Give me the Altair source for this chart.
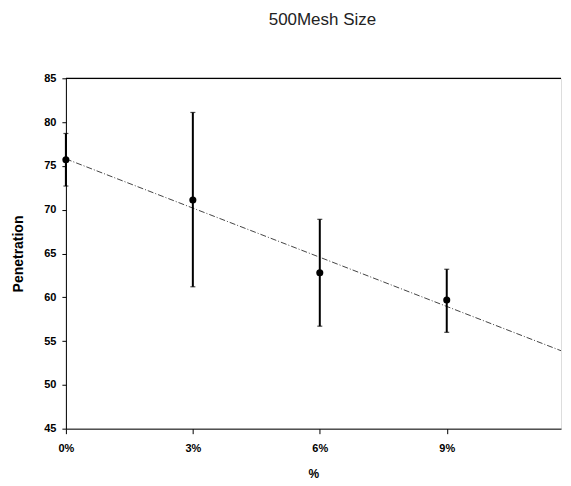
import altair as alt
import pandas as pd

pct = [0, 3, 6, 9]
penetration = [75.7, 71.1, 62.8, 59.7]
err_low = [72.7, 61.2, 56.7, 56.0]
err_high = [78.7, 81.1, 68.9, 63.2]
trend_x = [0, 11.7]
trend_y = [75.8, 53.9]
x_ticks = [0, 3, 6, 9]
y_ticks = [45, 50, 55, 60, 65, 70, 75, 80, 85]

df = pd.DataFrame({"pct": pct, "pen": penetration, "lo": err_low, "hi": err_high})
caps = pd.DataFrame({"pct": pct * 2, "v": err_low + err_high})
tr = pd.DataFrame({"pct": trend_x, "pen": trend_y})
top = pd.DataFrame({"pct": [0], "pct2": [11.7], "y": [85]})

FONT = "Liberation Sans"

xs = alt.Scale(domain=[0, 11.7], nice=False, zero=False)
ys = alt.Scale(domain=[45, 85], nice=False, zero=False)

xax = alt.Axis(values=x_ticks, labelExpr="datum.value + '%'", title="%", grid=False,
               domainColor="black", tickColor="black", tickSize=5, labelFont=FONT,
               labelFontSize=11, labelFontWeight="bold", titleFont=FONT, titleFontSize=12,
               titleFontWeight="bold", labelPadding=9, titlePadding=15, labelColor="black",
               titleColor="black", labelFlush=False)
yax = alt.Axis(values=y_ticks, title="Penetration", grid=False,
               domainColor="black", tickColor="black", tickSize=4, labelFont=FONT,
               labelFontSize=11, labelFontWeight="bold", titleFont=FONT, titleFontSize=14,
               titleFontWeight="bold", labelPadding=6, titlePadding=18, labelColor="black",
               titleColor="black", labelFlush=False)

base = alt.Chart(df)

trend = alt.Chart(tr).mark_line(color="#444444", strokeWidth=1, strokeDash=[6, 2, 1, 2]).encode(
    x=alt.X("pct:Q", scale=xs, axis=xax), y=alt.Y("pen:Q", scale=ys, axis=yax))

toprule = alt.Chart(top).mark_rule(color="black", strokeWidth=1.2).encode(
    x=alt.X("pct:Q", scale=xs), x2="pct2:Q", y=alt.Y("y:Q", scale=ys))

bars = base.mark_rule(color="black", strokeWidth=2).encode(
    x=alt.X("pct:Q", scale=xs), y=alt.Y("lo:Q", scale=ys), y2="hi:Q")

capm = alt.Chart(caps).mark_tick(color="black", thickness=1.2, size=5, orient="horizontal").encode(
    x=alt.X("pct:Q", scale=xs), y=alt.Y("v:Q", scale=ys))

pts = base.mark_circle(color="black", opacity=1, size=50).encode(
    x=alt.X("pct:Q", scale=xs), y=alt.Y("pen:Q", scale=ys))

chart = alt.layer(toprule, trend, bars, capm, pts).properties(
    width=496, height=351,
    title=alt.Title("500Mesh Size", font=FONT, fontSize=17, fontWeight="normal", color="#222222",
                    offset=43, anchor="middle", dx=9),
    padding={"left": 3, "top": 3, "right": 0, "bottom": 2},
).configure_view(stroke=None).configure(background="white")

chart.save("out.html", embed_options={"renderer": "svg", "actions": False})
